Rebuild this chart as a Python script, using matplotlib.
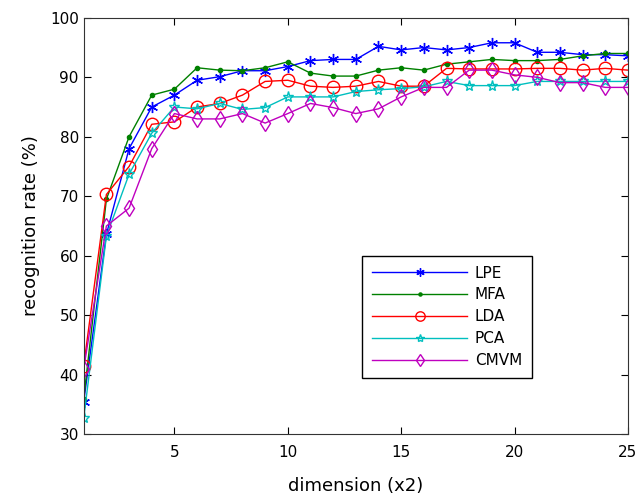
import numpy as np
import matplotlib.pyplot as plt

plt.rcParams['font.family'] = ['DejaVu Sans']

dims = list(range(1, 26))
lpe = [35.5, 63.6, 78.0, 85.0, 87.0, 89.5, 90.1, 91.1, 91.1, 91.8, 92.8, 93.0, 93.0,
       95.2, 94.6, 95.0, 94.6, 95.0, 95.8, 95.8, 94.2, 94.2, 93.8, 93.8, 93.6]
mfa = [36.0, 69.5, 80.0, 87.0, 88.0, 91.6, 91.2, 91.1, 91.6, 92.6, 90.7, 90.2, 90.2,
       91.2, 91.6, 91.2, 92.2, 92.6, 93.0, 92.8, 92.8, 93.0, 93.6, 94.0, 94.0]
lda = [41.5, 70.3, 75.0, 82.1, 82.5, 85.0, 85.6, 87.0, 89.3, 89.5, 88.5, 88.3, 88.5,
       89.3, 88.5, 88.5, 91.5, 91.4, 91.4, 91.4, 91.5, 91.5, 91.2, 91.5, 91.2]
pca = [32.7, 63.3, 73.7, 80.6, 85.0, 84.7, 85.6, 84.6, 84.9, 86.7, 86.7, 86.7, 87.6,
       87.9, 88.1, 88.4, 89.3, 88.6, 88.6, 88.6, 89.3, 89.3, 89.3, 89.3, 89.3]
cmvm = [41.0, 65.0, 68.0, 78.0, 83.9, 83.0, 83.0, 83.9, 82.3, 83.9, 85.6, 84.9, 83.9,
        84.7, 86.7, 88.3, 88.3, 91.2, 91.2, 90.4, 90.0, 89.1, 89.1, 88.3, 88.3]

fig = plt.figure(figsize=(6.44, 4.94), dpi=100)
ax = fig.add_axes([0.130, 0.121, 0.845, 0.843])

ax.plot(dims, lpe, '-', color='b', marker=(6, 2, 0), markersize=8, lw=1, label='LPE')
ax.plot(dims, mfa, '-', color=(0, 0.5, 0), marker='.', markersize=6, lw=1, label='MFA')
ax.plot(dims, lda, '-', color='r', marker='o', markersize=9, mfc='none', lw=1, label='LDA')
ax.plot(dims, pca, '-', color='c', marker='*', markersize=8, mfc='none', lw=1, label='PCA')
ax.plot(dims, cmvm, '-', color='m', marker='d', markersize=8, mfc='none', lw=1, label='CMVM')

ax.set_xlim(1, 25)
ax.set_ylim(30, 100)
ax.set_xticks([5, 10, 15, 20, 25])
ax.set_yticks(range(30, 101, 10))
ax.tick_params(direction='in', top=True, right=True, labelsize=11, length=5)
ax.tick_params(axis='x', pad=8)
for s in ax.spines.values():
    s.set_color('#333333')

ax.set_xlabel('dimension (x2)', fontsize=13, labelpad=12)
ax.set_ylabel('recognition rate (%)', fontsize=13, labelpad=7)

leg = ax.legend(loc='lower left', bbox_to_anchor=(0.512, 0.135), borderaxespad=0,
                fontsize=11, handlelength=6.2, handletextpad=0.5, markerscale=0.75,
                fancybox=False, edgecolor='black', framealpha=1,
                borderpad=0.65, labelspacing=0.45)
leg.get_frame().set_linewidth(1)

fig.savefig('out.png', dpi=100)
